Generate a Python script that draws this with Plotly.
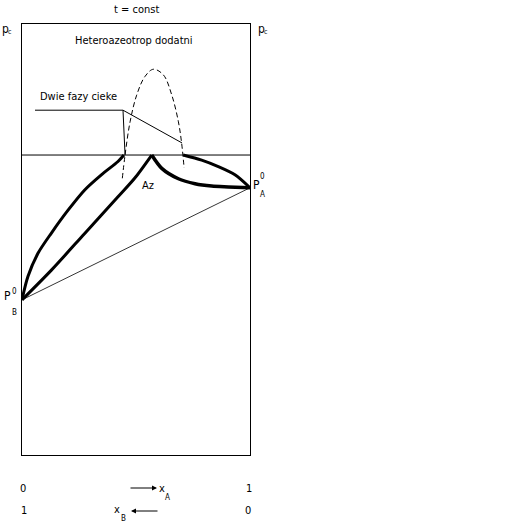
import plotly.graph_objects as go

# ---- data (x = mole fraction of A, p = pressure, arbitrary units) ----
p_B0 = 36.0
p_A0 = 62.0
p_het = 69.6          # three-phase (heteroazeotrope) pressure
x_az = 0.569

# left branch, outer curve (to the left limit of the liquid-liquid region)
left_outer_x = [0.0, 0.026, 0.070, 0.129, 0.202, 0.275, 0.348, 0.421, 0.447]
left_outer_p = [36.0, 41.4, 46.8, 51.5, 56.8, 61.5, 65.0, 68.1, 69.6]

# left branch, inner curve (to the azeotrope)
left_inner_x = [0.0, 0.129, 0.275, 0.421, 0.494, 0.569]
left_inner_p = [36.0, 42.9, 51.4, 59.9, 64.2, 69.6]

# right branch, lower curve (azeotrope to pure A)
right_lower_x = [0.569, 0.613, 0.686, 0.759, 0.832, 0.905, 1.0]
right_lower_p = [69.6, 66.5, 64.1, 62.95, 62.4, 62.2, 62.0]

# right branch, upper curve
right_upper_x = [0.707, 0.788, 0.861, 0.934, 1.0]
right_upper_p = [69.6, 68.4, 66.9, 65.0, 62.0]

# liquid-liquid immiscibility dome (dashed)
dome_x = [0.440, 0.452, 0.474, 0.503, 0.539, 0.576, 0.620, 0.657, 0.686, 0.700, 0.711]
dome_p = [64.2, 69.6, 77.3, 83.5, 87.8, 89.5, 88.2, 83.5, 77.3, 72.4, 66.6]

# callout leader for "two liquid phases"
leader_x = [0.057, 0.443, 0.452]
leader_p = [80.0, 80.0, 69.6]
leader2_x = [0.443, 0.702]
leader2_p = [80.0, 72.4]

FONT = "Liberation Sans Narrow, DejaVu Sans Condensed, Arial Narrow, sans-serif"

fig = go.Figure()

thick = dict(color="black", width=3)
fig.add_trace(go.Scatter(x=left_outer_x, y=left_outer_p, mode="lines",
                         line=dict(thick, shape="spline", smoothing=0.8), hoverinfo="skip"))
fig.add_trace(go.Scatter(x=left_inner_x, y=left_inner_p, mode="lines",
                         line=dict(thick, shape="spline", smoothing=0.8), hoverinfo="skip"))
fig.add_trace(go.Scatter(x=right_lower_x, y=right_lower_p, mode="lines",
                         line=dict(color="black", width=3.5, shape="spline", smoothing=0.8),
                         hoverinfo="skip"))
fig.add_trace(go.Scatter(x=right_upper_x, y=right_upper_p, mode="lines",
                         line=dict(thick, shape="spline", smoothing=0.8), hoverinfo="skip"))
# ideal (Raoult) straight line
fig.add_trace(go.Scatter(x=[0, 1], y=[p_B0, p_A0], mode="lines",
                         line=dict(color="black", width=0.8), hoverinfo="skip"))
# three-phase horizontal line
fig.add_trace(go.Scatter(x=[0, 1], y=[p_het, p_het], mode="lines",
                         line=dict(color="black", width=1), hoverinfo="skip"))
# dome
fig.add_trace(go.Scatter(x=dome_x, y=dome_p, mode="lines",
                         line=dict(color="black", width=1, dash="5px,3px", shape="spline"),
                         hoverinfo="skip"))
# leaders
fig.add_trace(go.Scatter(x=leader_x, y=leader_p, mode="lines",
                         line=dict(color="black", width=1), hoverinfo="skip"))
fig.add_trace(go.Scatter(x=leader2_x, y=leader2_p, mode="lines",
                         line=dict(color="black", width=1), hoverinfo="skip"))

def ann(text, x, y, size=11, xref="paper", yref="paper", **kw):
    fig.add_annotation(text=text, x=x, y=y, xref=xref, yref=yref, showarrow=False,
                       xanchor="center", yanchor="middle",
                       font=dict(family=FONT, size=size, color="black"), **kw)

# pixel helpers for paper coordinates (plot area 22..250 x 24..455)
def px(x):
    return (x - 22) / 228.0

def py(y):
    return (455 - y) / 431.0

ann("t = const", px(136), py(10))
ann("p", px(5), py(29), size=12)
ann("c", px(10), py(32), size=7)
ann("p", px(261), py(29), size=12)
ann("c", px(266), py(32), size=7)
ann("Heteroazeotrop dodatni", px(134), py(40))
ann("Dwie fazy cieke", px(78), py(97))
ann("Az", px(148), py(185))
ann("P", px(256), py(185), size=12)
ann("0", px(262), py(176), size=8)
ann("A", px(262), py(194), size=8)
ann("P", px(7), py(296), size=12)
ann("0", px(14), py(292), size=8)
ann("B", px(14), py(312), size=8)

# bottom axis labels
ann("0", px(23), py(489))
ann("1", px(249), py(489))
ann("1", px(24), py(511))
ann("0", px(248), py(511))
ann("x", px(162), py(488))
ann("A", px(167), py(497), size=8)
ann("x", px(117), py(510))
ann("B", px(123), py(518), size=8)

fig.add_annotation(x=px(157), y=py(488), ax=-28, ay=0, xref="paper", yref="paper",
                   text="", showarrow=True, arrowhead=2, arrowsize=1, arrowwidth=1,
                   arrowcolor="black")
fig.add_annotation(x=px(131), y=py(511), ax=28, ay=0, xref="paper", yref="paper",
                   text="", showarrow=True, arrowhead=2, arrowsize=1, arrowwidth=1,
                   arrowcolor="black")

fig.update_xaxes(range=[0, 1], showgrid=False, zeroline=False, showticklabels=False,
                 ticks="", showline=True, linecolor="black", linewidth=1, mirror=True)
fig.update_yaxes(range=[0, 100], showgrid=False, zeroline=False, showticklabels=False,
                 ticks="", showline=True, linecolor="black", linewidth=1, mirror=True)

fig.update_layout(width=513, height=528, showlegend=False,
                  margin=dict(l=22, r=263, t=24, b=73, autoexpand=False),
                  paper_bgcolor="white", plot_bgcolor="white")

fig.write_html("out.html", config={"displayModeBar": False},
               post_script="document.body.style.margin='0';")
